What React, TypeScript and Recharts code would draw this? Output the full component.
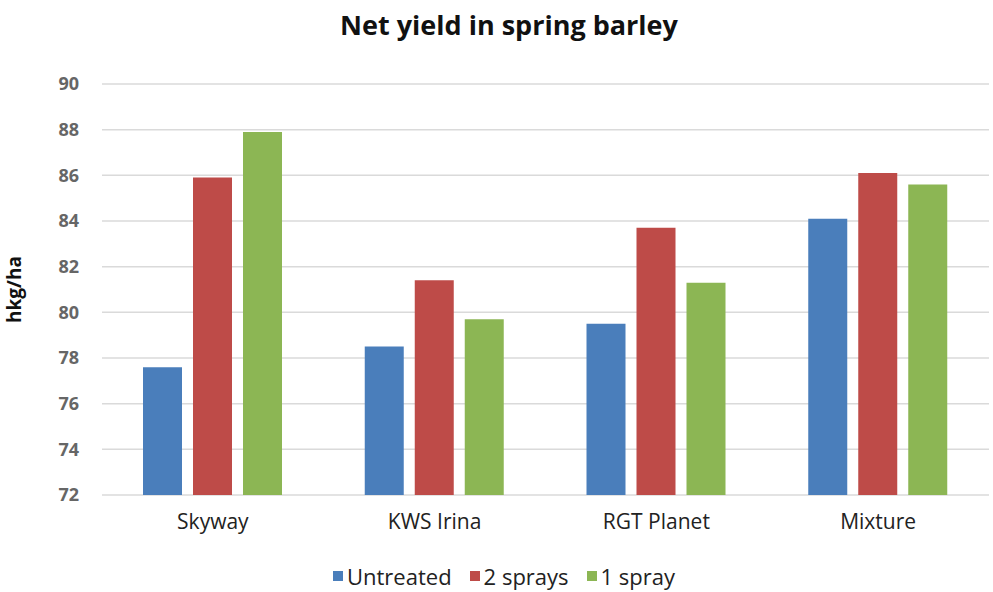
import React from 'react'
import { BarChart, Bar, XAxis, YAxis, CartesianGrid } from 'recharts'

// ─── Data ────────────────────────────────────────────────────────

const varieties = ['Skyway', 'KWS Irina', 'RGT Planet', 'Mixture']
const untreated = [77.6, 78.5, 79.5, 84.1]
const twoSprays = [85.9, 81.4, 83.7, 86.1]
const oneSpray = [87.9, 79.7, 81.3, 85.6]
const yTicks = [72, 74, 76, 78, 80, 82, 84, 86, 88, 90]

const SERIES = [
  { key: 'untreated', name: 'Untreated', color: '#4a7ebb' },
  { key: 'twoSprays', name: '2 sprays', color: '#be4b48' },
  { key: 'oneSpray', name: '1 spray', color: '#8cb654' },
]

const data = varieties.map((variety, i) => ({
  variety,
  untreated: untreated[i],
  twoSprays: twoSprays[i],
  oneSpray: oneSpray[i],
}))

const FONT = '"Open Sans", "Noto Sans", sans-serif'

// ─── Legend ──────────────────────────────────────────────────────

function ChartLegend() {
  return (
    <div
      style={{
        position: 'absolute',
        top: 561,
        left: 333,
        display: 'flex',
        alignItems: 'center',
        gap: 18,
        fontFamily: FONT,
        fontSize: 22,
        color: '#222',
        whiteSpace: 'nowrap',
      }}
    >
      {SERIES.map((s) => (
        <div key={s.key} style={{ display: 'flex', alignItems: 'center', gap: 4 }}>
          <span style={{ width: 10, height: 10, background: s.color, display: 'inline-block' }} />
          <span>{s.name}</span>
        </div>
      ))}
    </div>
  )
}

// ─── Main Component ──────────────────────────────────────────────

export default function App() {
  return (
    <div style={{ position: 'absolute', left: 0, top: 0, width: 993, height: 592, background: '#fff', fontFamily: FONT }}>
      <div
        style={{
          position: 'absolute',
          top: 6,
          left: 0,
          width: 1018,
          textAlign: 'center',
          fontSize: 27,
          fontWeight: 700,
          color: '#111',
        }}
      >
        Net yield in spring barley
      </div>
      <BarChart
        width={993}
        height={592}
        data={data}
        margin={{ top: 84, right: 4, bottom: 67, left: 0 }}
        barGap={11}
        barCategoryGap={41}
      >
        <CartesianGrid vertical={false} stroke="#dadada" strokeWidth={1.5} />
        <XAxis
          dataKey="variety"
          height={30}
          axisLine={false}
          tickLine={false}
          tickSize={6}
          tickMargin={13}
          tick={{ fill: '#222', fontSize: 21, fontFamily: FONT }}
        />
        <YAxis
          width={102}
          domain={[72, 90]}
          ticks={yTicks}
          allowDataOverflow
          axisLine={false}
          tickLine={false}
          tickSize={6}
          tickMargin={17}
          tick={{ fill: '#666', fontSize: 18, fontWeight: 700, fontFamily: FONT }}
          label={{
            value: 'hkg/ha',
            angle: -90,
            position: 'insideLeft',
            offset: 14,
            style: { fill: '#111', fontSize: 19, fontWeight: 700, fontFamily: FONT, textAnchor: 'middle' },
          }}
        />
        {SERIES.map((s) => (
          <Bar key={s.key} dataKey={s.key} name={s.name} fill={s.color} isAnimationActive={false} />
        ))}
      </BarChart>
      <ChartLegend />
    </div>
  )
}
